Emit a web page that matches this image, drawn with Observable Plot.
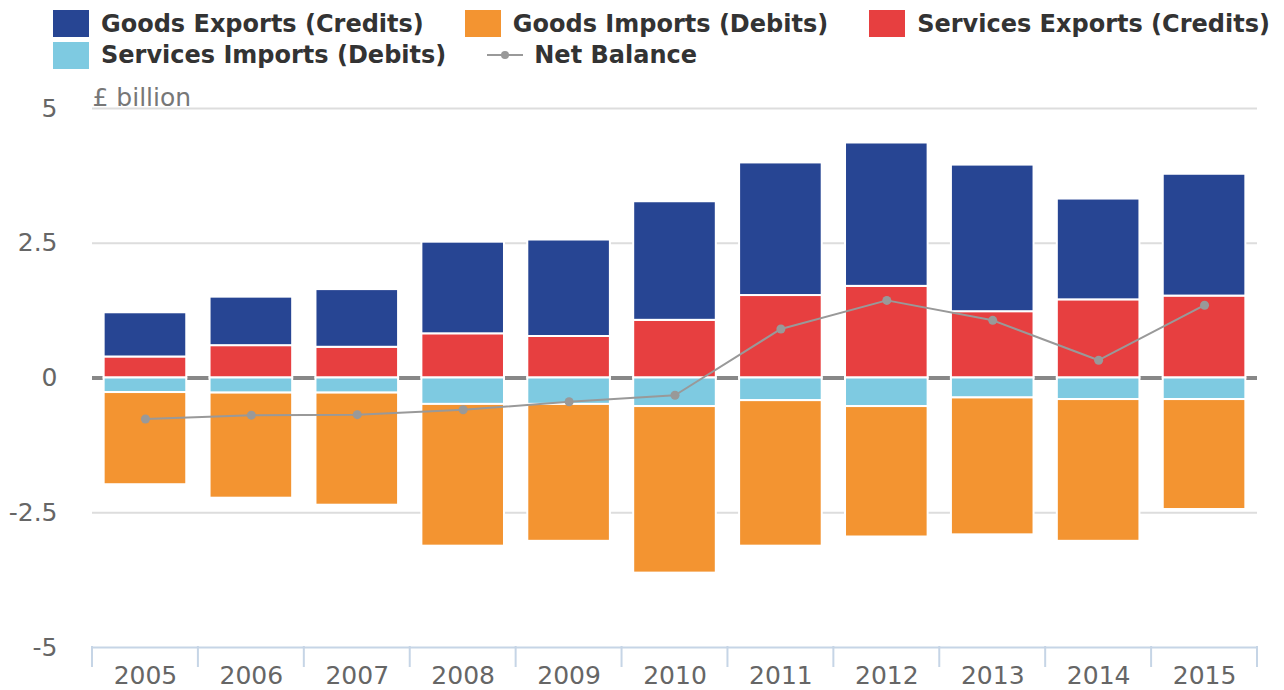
<!DOCTYPE html>
<html><head><meta charset="utf-8">
<script src="https://cdn.jsdelivr.net/npm/d3@7"></script>
<script src="https://cdn.jsdelivr.net/npm/@observablehq/plot@0.6"></script>
<style>
body{margin:0;background:#fff;font-family:"DejaVu Sans",sans-serif;}
#legend{box-sizing:border-box;height:75px;padding:8px 0 0 53px;width:1284px;}
.row{display:flex;column-gap:41px;}
.item{display:flex;align-items:center;height:31.5px;font-weight:bold;font-size:24px;color:#333;white-space:nowrap;}
.sw{width:36px;height:27px;margin-right:12px;}
.ln{width:36px;height:12px;margin-right:11px;}
#chart svg{display:block;}
</style></head>
<body>
<div id="legend"></div>
<div id="chart"></div>
<script>
const years = ["2005","2006","2007","2008","2009","2010","2011","2012","2013","2014","2015"];
const goodsExports    = [0.82,0.90,1.07,1.70,1.79,2.20,2.46,2.66,2.72,1.87,2.26];
const servicesExports = [0.39,0.60,0.57,0.82,0.77,1.07,1.53,1.70,1.23,1.45,1.52];
const servicesImports = [-0.27,-0.28,-0.28,-0.49,-0.49,-0.53,-0.42,-0.53,-0.37,-0.40,-0.40];
const goodsImports    = [-1.71,-1.95,-2.08,-2.63,-2.54,-3.09,-2.70,-2.42,-2.54,-2.63,-2.04];
const netBalance      = [-0.76,-0.69,-0.68,-0.59,-0.44,-0.32,0.91,1.44,1.07,0.33,1.35];
const yTicks = [-5,-2.5,0,2.5,5];
const gridTicks = [5,2.5,-2.5];

const seriesNames = ["Goods Exports (Credits)","Goods Imports (Debits)","Services Exports (Credits)","Services Imports (Debits)"];
const seriesColors = ["#274593","#F39431","#E73F40","#7ECAE1"];
const netName = "Net Balance";
const netColor = "#999999";

// stacking order (closest to zero first)
const stackOrder = [
  ["Services Exports (Credits)", servicesExports],
  ["Goods Exports (Credits)", goodsExports],
  ["Services Imports (Debits)", servicesImports],
  ["Goods Imports (Debits)", goodsImports]
];
const rows = stackOrder.flatMap(([name, vals]) => years.map((y,i) => ({year:y, series:name, value:vals[i]})));
const netRows = years.map((y,i) => ({year:y, value:netBalance[i]}));

// Legend
const legend = document.getElementById("legend");
const rowsDef = [[0,1,2],[3,"net"]];
for (const r of rowsDef) {
  const rowDiv = document.createElement("div"); rowDiv.className = "row";
  for (const k of r) {
    const it = document.createElement("div"); it.className = "item";
    if (k === "net") {
      it.innerHTML = `<svg class="ln" width="36" height="12"><line x1="0" x2="36" y1="6" y2="6" stroke="${netColor}" stroke-width="2"/><circle cx="18" cy="6" r="4" fill="${netColor}"/></svg><span>${netName}</span>`;
    } else {
      it.innerHTML = `<div class="sw" style="background:${seriesColors[k]}"></div><span>${seriesNames[k]}</span>`;
    }
    rowDiv.appendChild(it);
  }
  legend.appendChild(rowDiv);
}

const chart = Plot.plot({
  width: 1284,
  height: 615,
  marginTop: 33,
  marginBottom: 43,
  marginLeft: 92,
  marginRight: 27,
  style: {fontFamily: "DejaVu Sans", background: "#fff"},
  x: {type: "band", domain: years, paddingInner: 0.22, paddingOuter: 0.11, round: false, label: null},
  y: {domain: [-5, 5], label: null},
  color: {domain: seriesNames, range: seriesColors},
  marks: [
    Plot.ruleY(gridTicks, {stroke: "#dddddd", strokeWidth: 2}),
    Plot.ruleY([0], {stroke: "#888888", strokeWidth: 4}),
    Plot.barY(rows, {x: "year", y: "value", fill: "series", stroke: "white", strokeWidth: 2}),
    Plot.line(netRows, {x: "year", y: "value", stroke: netColor, strokeWidth: 2}),
    Plot.dot(netRows, {x: "year", y: "value", r: 4.5, fill: netColor}),
    Plot.ruleY([-5], {stroke: "#c6d5e6", strokeWidth: 2}),
    Plot.axisY(yTicks, {tickSize: 0, tickPadding: 35, fontSize: 25, fill: "#666", label: null, tickFormat: d => String(d)}),
    Plot.axisX({tickSize: 0, tickPadding: 19, fontSize: 25, fill: "#666", label: null}),
    Plot.text(["£ billion"], {frameAnchor: "top-left", text: d => d, textAnchor: "start", lineAnchor: "bottom", fontSize: 25, fill: "#777", dy: -3})
  ]
});
document.getElementById("chart").appendChild(chart);

// ticks at band boundaries, using the library's scales
const xs = chart.scale("x"), ys = chart.scale("y");
const yApply = ys.apply ? ys.apply : d3.scaleLinear().domain(ys.domain).range(ys.range);
const xApply = xs.apply ? xs.apply : d3.scaleBand().domain(xs.domain).range(xs.range).paddingInner(xs.paddingInner).paddingOuter(xs.paddingOuter).align(xs.align ?? 0.5);
const bw = xs.bandwidth;
const step = xApply(years[1]) - xApply(years[0]);
const edges = years.map(y => xApply(y) - (step - bw) / 2);
edges.push(xApply(years[years.length-1]) + bw + (step - bw) / 2);
const y0 = yApply(-5);
const g = d3.select(chart).append("g");
g.selectAll("line").data(edges).join("line")
  .attr("x1", d => d).attr("x2", d => d)
  .attr("y1", y0 - 1).attr("y2", y0 + 20)
  .attr("stroke", "#c6d5e6").attr("stroke-width", 2);
</script>
</body></html>
